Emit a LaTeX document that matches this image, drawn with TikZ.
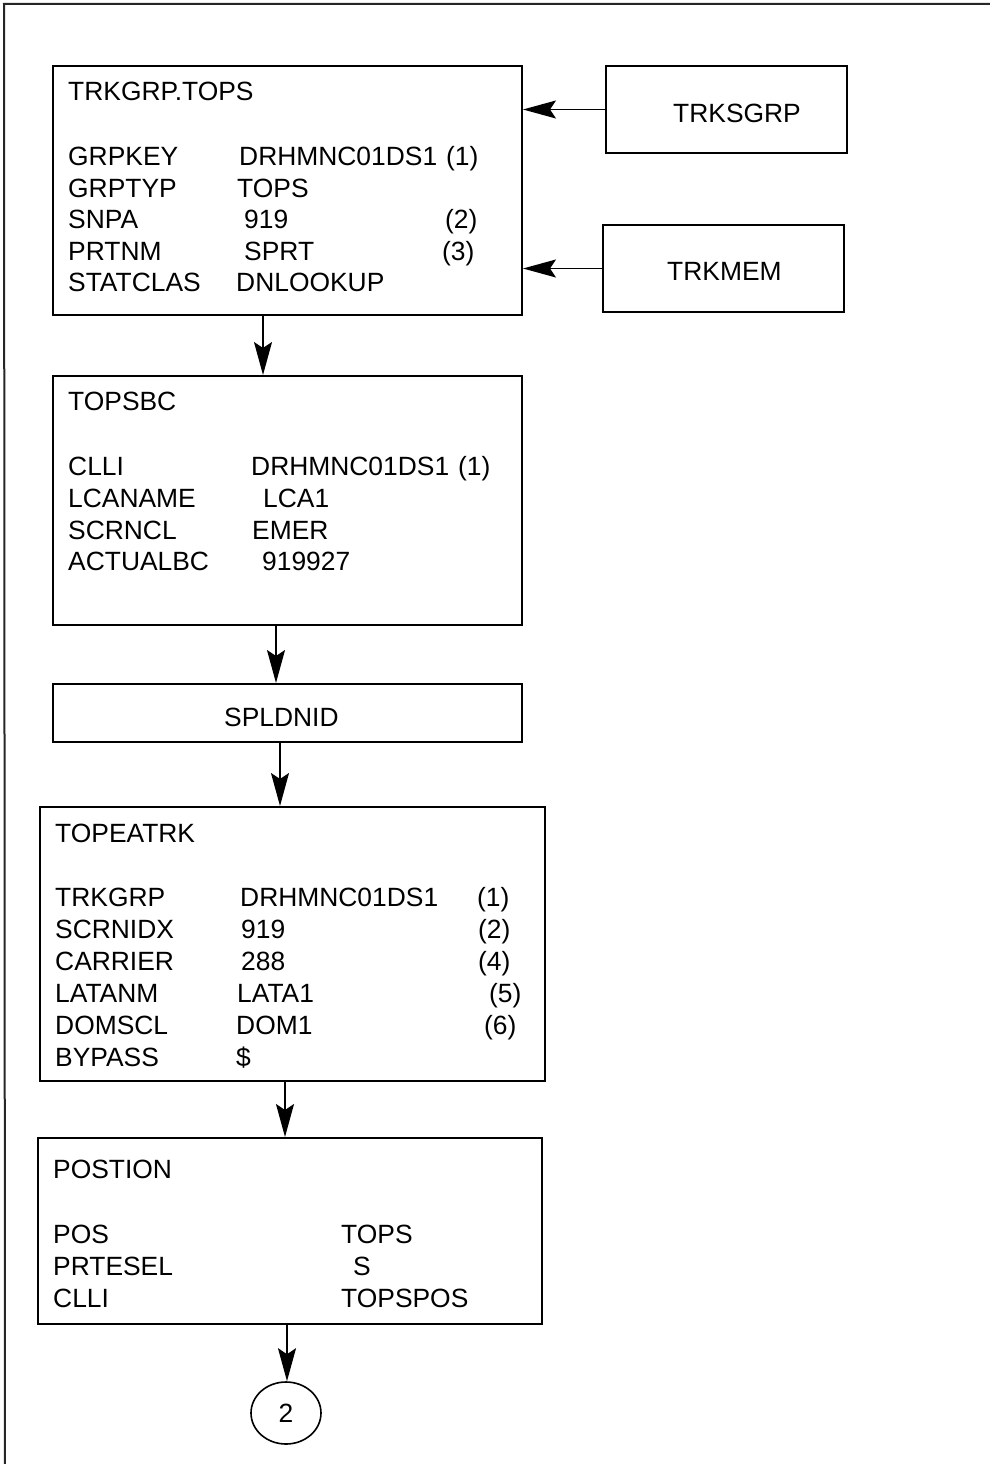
\documentclass[tikz,border=0pt]{standalone}
\usepackage{fontspec}
\setmainfont{Liberation Sans}
\usetikzlibrary{arrows.meta,shapes.geometric}
\begin{document}
\begin{tikzpicture}[x=1pt,y=-1pt,
  every node/.style={font=\fontsize{26.4}{30}\selectfont},
  tablebox/.style={draw, line width=2pt, inner sep=0pt, anchor=north west},
  txt/.style={anchor=base west, inner sep=0pt},
  arr/.style={line width=1.6pt, -{Stealth[length=33pt,width=18pt,inset=6pt]}},
  frameline/.style={line width=2pt, draw=black!85}
]
\useasboundingbox (0,0) rectangle (990,1464);
% page frame
\coordinate (fa) at (4,4);
\coordinate (fb) at (990,4);
\coordinate (fc) at (5,1464);
\draw[frameline] (fb) -- (fa) -- (fc);

% ---------- TRKGRP.TOPS ----------
\node[tablebox, minimum width=469pt, minimum height=249pt] (b1) at (52,65) {};
\node[txt] (b1t) at (68,100) {TRKGRP.TOPS};
\node[txt] (b1l1) at (68,165) {GRPKEY};
\node[txt] (b1l2) at (68,197) {GRPTYP};
\node[txt] (b1l3) at (68,228) {SNPA};
\node[txt] (b1l4) at (68,260) {PRTNM};
\node[txt] (b1l5) at (68,291) {STATCLAS};
\node[txt] (b1v1) at (239,165) {DRHMNC01DS1};
\node[txt] (b1v2) at (237,197) {TOPS};
\node[txt] (b1v3) at (244,228) {919};
\node[txt] (b1v4) at (244,260) {SPRT};
\node[txt] (b1v5) at (236,291) {DNLOOKUP};
\node[txt] (b1n1) at (446,165) {(1)};
\node[txt] (b1n3) at (445,228) {(2)};
\node[txt] (b1n4) at (442,260) {(3)};

% ---------- side tables ----------
\node[tablebox, minimum width=241pt, minimum height=87pt] (ts) at (605,65) {};
\node[txt] (tst) at (673,122) {TRKSGRP};
\node[tablebox, minimum width=241pt, minimum height=87pt] (tm) at (602,224) {};
\node[txt] (tmt) at (667,280) {TRKMEM};
\draw[arr] (ts.west) -- (ts.west -| b1.east);
\draw[arr] (tm.west) -- (tm.west -| b1.east);

% ---------- TOPSBC ----------
\node[tablebox, minimum width=469pt, minimum height=249pt] (b2) at (52,375) {};
\node[txt] (b2t) at (68,410) {TOPSBC};
\node[txt] (b2l1) at (68,475) {CLLI};
\node[txt] (b2l2) at (68,507) {LCANAME};
\node[txt] (b2l3) at (68,539) {SCRNCL};
\node[txt] (b2l4) at (68,570) {ACTUALBC};
\node[txt] (b2v1) at (251,475) {DRHMNC01DS1};
\node[txt] (b2v2) at (263,507) {LCA1};
\node[txt] (b2v3) at (252,539) {EMER};
\node[txt] (b2v4) at (262,570) {919927};
\node[txt] (b2n1) at (458,475) {(1)};
\draw[arr] ([xshift=-24.5pt]b1.south) -- ([xshift=-24.5pt]b1.south |- b2.north);

% ---------- SPLDNID ----------
\node[tablebox, minimum width=469pt, minimum height=58pt] (b3) at (52,683) {};
\node[txt] (b3t) at (224,726) {SPLDNID};
\draw[arr] ([xshift=-11.5pt]b2.south) -- ([xshift=-11.5pt]b2.south |- b3.north);

% ---------- TOPEATRK ----------
\node[tablebox, minimum width=505pt, minimum height=274pt] (b4) at (39,806) {};
\node[txt] (b4t) at (55,842) {TOPEATRK};
\node[txt] (b4l1) at (55,906) {TRKGRP};
\node[txt] (b4l2) at (55,938) {SCRNIDX};
\node[txt] (b4l3) at (55,970) {CARRIER};
\node[txt] (b4l4) at (55,1002) {LATANM};
\node[txt] (b4l5) at (55,1034) {DOMSCL};
\node[txt] (b4l6) at (55,1066) {BYPASS};
\node[txt] (b4v1) at (240,906) {DRHMNC01DS1};
\node[txt] (b4v2) at (241,938) {919};
\node[txt] (b4v3) at (241,970) {288};
\node[txt] (b4v4) at (237,1002) {LATA1};
\node[txt] (b4v5) at (236,1034) {DOM1};
\node[txt] (b4v6) at (236,1066) {\$};
\node[txt] (b4n1) at (477,906) {(1)};
\node[txt] (b4n2) at (478,938) {(2)};
\node[txt] (b4n3) at (478,970) {(4)};
\node[txt] (b4n4) at (489,1002) {(5)};
\node[txt] (b4n5) at (484,1034) {(6)};
\draw[arr] ([xshift=-7.5pt]b3.south) -- ([xshift=-7.5pt]b3.south |- b4.north);

% ---------- POSTION ----------
\node[tablebox, minimum width=504pt, minimum height=186pt] (b5) at (37,1137) {};
\node[txt] (b5t) at (53,1178) {POSTION};
\node[txt] (b5l1) at (53,1243) {POS};
\node[txt] (b5l2) at (53,1275) {PRTESEL};
\node[txt] (b5l3) at (53,1307) {CLLI};
\node[txt] (b5v1) at (341,1243) {TOPS};
\node[txt] (b5v2) at (353,1275) {S};
\node[txt] (b5v3) at (341,1307) {TOPSPOS};
\draw[arr] ([xshift=-7.5pt]b4.south) -- ([xshift=-7.5pt]b4.south |- b5.north);

% ---------- connector circle ----------
\node[draw, ellipse, line width=1.6pt, minimum width=70pt, minimum height=62pt, inner sep=0pt] (c2) at (286,1413) {2};
\draw[arr] ([xshift=-3pt]b5.south) -- ([xshift=-3pt]b5.south |- c2.north);
\end{tikzpicture}
\end{document}
